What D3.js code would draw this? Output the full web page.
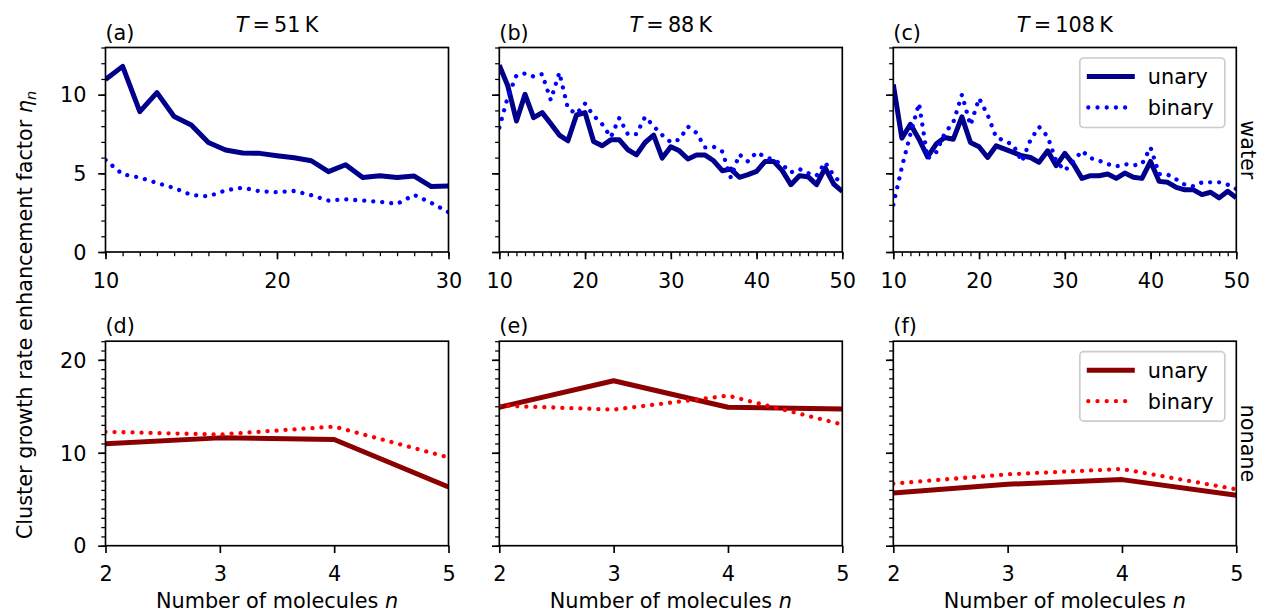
<!DOCTYPE html>
<meta charset="utf-8">
<style>
body { margin: 0; background: #fff; }
text { font-family: 'DejaVu Sans', sans-serif; fill: #000; }
.tick text { font-size: 20.8px; font-family: 'DejaVu Sans', sans-serif; }
</style>
<svg width="1261" height="613"></svg>
<script src="https://d3js.org/d3.v7.min.js"></script>
<script>

// cluster sizes (categories)
var nWaterA = d3.range(10, 31),
    nWaterB = d3.range(10, 51),
    nNonane = [2, 3, 4, 5];

// water, T = 51 K
var waterUnary51 = [10.97, 11.8, 8.92, 10.13, 8.61, 8.08, 6.96, 6.48, 6.29, 6.27, 6.12,
                    5.99, 5.8, 5.11, 5.55, 4.73, 4.85, 4.73, 4.83, 4.16, 4.2];
var waterBinary51 = [5.85, 4.94, 4.73, 4.39, 4.07, 3.63, 3.54, 3.92, 4.09, 3.86, 3.8,
                     3.88, 3.61, 3.27, 3.35, 3.27, 3.19, 3.06, 3.63, 3.12, 2.53];

// water, T = 88 K
var waterUnary88 = [11.88, 10.55, 8.33, 10.02, 8.54, 8.86, 8.16, 7.43, 7.07, 8.71, 8.86,
                    7.03, 6.75, 7.13, 7.13, 6.5, 6.18, 6.96, 7.43, 5.97, 6.69,
                    6.43, 5.91, 6.16, 6.16, 5.8, 5.17, 5.27, 4.75, 4.92, 5.13,
                    5.76, 5.76, 5.17, 4.28, 4.85, 4.79, 4.28, 5.34, 4.32, 3.85];
var waterBinary88 = [7.91, 9.87, 11.22, 11.35, 11.16, 11.31, 9.66, 11.41, 9.13, 8.78, 9.43,
                     8.67, 8.12, 7.3, 8.52, 7.47, 7.49, 8.59, 8.0, 7.43, 6.98,
                     7.15, 7.97, 7.57, 6.65, 6.69, 6.39, 4.73, 6.2, 5.76, 6.33,
                     6.05, 5.86, 5.55, 5.06, 5.27, 5.02, 4.85, 5.7, 4.85, 4.3];

// water, T = 108 K
var waterUnary108 = [10.65, 7.24, 8.12, 7.17, 6.05, 6.86, 7.28, 7.17, 8.59, 6.96, 6.69,
                     6.01, 6.75, 6.54, 6.33, 6.12, 6.01, 5.7, 6.43, 5.49, 6.27,
                     5.59, 4.68, 4.85, 4.85, 4.96, 4.68, 5.02, 4.75, 4.68, 5.76,
                     4.49, 4.43, 4.11, 3.95, 3.95, 3.65, 3.8, 3.44, 3.86, 3.44];
var waterBinary108 = [3.0, 5.4, 7.5, 9.45, 5.95, 6.33, 7.55, 8.25, 10.0, 8.06, 9.77,
                      8.71, 7.28, 7.07, 6.79, 5.74, 7.13, 7.95, 7.34, 5.78, 5.17,
                      5.76, 6.43, 5.97, 5.8, 5.59, 5.44, 5.59, 5.51, 5.59, 6.65,
                      4.96, 4.92, 4.62, 4.28, 4.18, 4.43, 4.43, 4.43, 4.28, 4.01];

// nonane
var nonaneUnary51 = [10.96, 11.6, 11.43, 6.32],
    nonaneBinary51 = [12.25, 11.96, 12.82, 9.5],
    nonaneUnary88 = [14.89, 17.75, 14.89, 14.71],
    nonaneBinary88 = [15.07, 14.64, 16.14, 13.04],
    nonaneUnary108 = [5.68, 6.61, 7.11, 5.43],
    nonaneBinary108 = [6.68, 7.68, 8.25, 6.07];

var temps = ["51", "88", "108"];
var letters = ["a", "b", "c", "d", "e", "f"];
var seriesNames = ["unary", "binary"];

var svg = d3.select("svg");

var colLeft = [105.5, 499.3, 893.3],
    pw = 343,
    ph = 204.5,
    rowTop = [47.5, 341.2];

var panels = [
  {row: 0, col: 0, n: nWaterA, xd: [10, 30], xt: [10, 20, 30], u: waterUnary51, b: waterBinary51},
  {row: 0, col: 1, n: nWaterB, xd: [10, 50], xt: [10, 20, 30, 40, 50], u: waterUnary88, b: waterBinary88},
  {row: 0, col: 2, n: nWaterB, xd: [10, 50], xt: [10, 20, 30, 40, 50], u: waterUnary108, b: waterBinary108},
  {row: 1, col: 0, n: nNonane, xd: [2, 5], xt: [2, 3, 4, 5], u: nonaneUnary51, b: nonaneBinary51},
  {row: 1, col: 1, n: nNonane, xd: [2, 5], xt: [2, 3, 4, 5], u: nonaneUnary88, b: nonaneBinary88},
  {row: 1, col: 2, n: nNonane, xd: [2, 5], xt: [2, 3, 4, 5], u: nonaneUnary108, b: nonaneBinary108}
];

var colors = [
  {u: "#00008b", b: "#0000ff"},
  {u: "#8b0000", b: "#ff0000"}
];

panels.forEach(function(p, i) {
  var x0 = colLeft[p.col], y0 = rowTop[p.row];
  var g = svg.append("g").attr("transform", "translate(" + x0 + "," + y0 + ")");

  var x = d3.scaleLinear().domain(p.xd).range([0, pw]);
  var ymax = p.row === 0 ? 13 : 22;
  var y = d3.scaleLinear().domain([0, ymax]).range([ph, 0]);
  var yMajor = p.row === 0 ? [0, 5, 10] : [0, 10, 20];

  // minor ticks
  if (p.row === 0) {
    g.append("g")
      .attr("transform", "translate(0," + ph + ")")
      .call(d3.axisBottom(x).tickValues(d3.range(p.xd[0], p.xd[1] + 1)).tickSize(4.2).tickFormat(""))
      .call(function(a) { a.select(".domain").remove(); a.selectAll("line").attr("stroke-width", 1.25); });
  }
  g.append("g")
    .call(d3.axisLeft(y).tickValues(d3.range(0, ymax + 1)).tickSize(4.2).tickFormat(""))
    .call(function(a) { a.select(".domain").remove(); a.selectAll("line").attr("stroke-width", 1.25); });

  // major ticks
  g.append("g")
    .attr("transform", "translate(0," + ph + ")")
    .call(d3.axisBottom(x).tickValues(p.xt).tickSize(7.3).tickFormat(d3.format("d")))
    .call(function(a) {
      a.select(".domain").remove();
      a.selectAll("line").attr("stroke-width", 1.67);
      a.selectAll("text").attr("y", 35.5).attr("dy", 0);
    });
  g.append("g")
    .call(d3.axisLeft(y).tickValues(yMajor).tickSize(7.3)
      .tickFormat(p.col === 0 ? d3.format("d") : ""))
    .call(function(a) {
      a.select(".domain").remove();
      a.selectAll("line").attr("stroke-width", 1.67);
      a.selectAll("text").attr("x", -19).attr("dy", "0.35em");
    });

  // clip
  svg.append("clipPath").attr("id", "clip" + i)
    .append("rect").attr("width", pw).attr("height", ph);

  var line = d3.line()
    .x(function(d, j) { return x(p.n[j]); })
    .y(function(d) { return y(d); });

  var lines = g.append("g").attr("clip-path", "url(#clip" + i + ")");
  lines.append("path")
    .datum(p.u)
    .attr("d", line)
    .attr("fill", "none")
    .attr("stroke", colors[p.row].u)
    .attr("stroke-width", 5)
    .attr("stroke-linejoin", "round");
  lines.append("path")
    .datum(p.b)
    .attr("d", line)
    .attr("fill", "none")
    .attr("stroke", colors[p.row].b)
    .attr("stroke-width", 4.3)
    .attr("stroke-linecap", "round")
    .attr("stroke-dasharray", "0.01 9");

  // frame
  g.append("rect")
    .attr("width", pw).attr("height", ph)
    .attr("fill", "none").attr("stroke", "#000").attr("stroke-width", 1.67);

  // panel letter
  g.append("text")
    .attr("x", 0).attr("y", -8)
    .style("font-size", "20.8px")
    .text("(" + letters[i] + ")");

  // temperature title
  if (p.row === 0) {
    var t = g.append("text")
      .attr("x", pw / 2).attr("y", -16)
      .attr("text-anchor", "middle")
      .style("font-size", "20.8px");
    t.append("tspan").style("font-style", "italic").text("T");
    t.append("tspan").text("\u2009=\u2009" + temps[p.col] + "\u2009K");
  }

  // x label
  if (p.row === 1) {
    var xl = g.append("text")
      .attr("x", pw / 2).attr("y", 608 - y0)
      .attr("text-anchor", "middle")
      .style("font-size", "20.8px");
    xl.append("tspan").text("Number of molecules ");
    xl.append("tspan").style("font-style", "italic").text("n");
  }

  // legend
  if (p.col === 2) {
    var lg = g.append("g").attr("transform", "translate(" + (pw - 11.5 - 145) + ",10.5)");
    lg.append("rect")
      .attr("width", 145).attr("height", 69.5)
      .attr("rx", 4).attr("ry", 4)
      .attr("fill", "#fff").attr("fill-opacity", 0.8)
      .attr("stroke", "#cccccc").attr("stroke-width", 1.67);
    lg.append("line")
      .attr("x1", 7).attr("x2", 55).attr("y1", 18.5).attr("y2", 18.5)
      .attr("stroke", colors[p.row].u).attr("stroke-width", 5);
    lg.append("line")
      .attr("x1", 8.5).attr("x2", 46).attr("y1", 49.5).attr("y2", 49.5)
      .attr("stroke", colors[p.row].b).attr("stroke-width", 4.3)
      .attr("stroke-linecap", "round").attr("stroke-dasharray", "0.01 9.2");
    lg.selectAll("text.lab").data(seriesNames).enter().append("text")
      .attr("class", "lab")
      .attr("x", 68).attr("y", function(d, j) { return 26 + j * 31; })
      .style("font-size", "20.8px")
      .text(function(d) { return d; });

    // row label on the right
    svg.append("text")
      .attr("transform", "translate(" + 1241 + "," + (y0 + ph / 2) + ") rotate(90)")
      .attr("text-anchor", "middle")
      .style("font-size", "20.8px")
      .text(p.row === 0 ? "water" : "nonane");
  }
});

// shared y label
var yl = svg.append("text")
  .attr("transform", "translate(31.7,315) rotate(-90)")
  .attr("text-anchor", "middle")
  .style("font-size", "20.8px");
yl.append("tspan").text("Cluster growth rate enhancement factor ");
yl.append("tspan").style("font-style", "italic").text("\u03b7");
yl.append("tspan").style("font-style", "italic").style("font-size", "14.5px").attr("dy", 4).text("n");

</script>
